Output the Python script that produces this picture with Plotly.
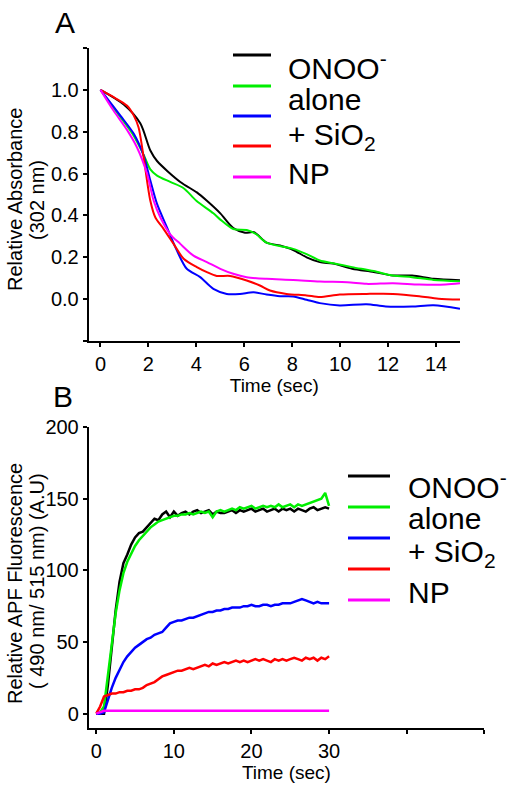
import plotly.graph_objects as go

# ---------------- Panel A data (Relative Absorbance at 302 nm) ----------------
a_black_t = [0, 0.97, 1.66, 2.08, 2.36, 3.33, 4.02, 4.44, 5.0, 5.54, 6.03, 6.4, 6.93, 7.49, 8.04, 8.6, 9.15, 9.7, 10.5, 11.4, 12.2, 13.0, 13.9, 15.0]
a_black_v = [1.0, 0.93, 0.84, 0.71, 0.66, 0.56, 0.51, 0.47, 0.41, 0.34, 0.317, 0.32, 0.27, 0.256, 0.235, 0.20, 0.177, 0.17, 0.145, 0.13, 0.113, 0.113, 0.097, 0.09]

a_green_t = [0, 0.83, 1.39, 1.8, 2.08, 2.36, 2.91, 3.47, 4.0, 4.71, 5.0, 5.54, 6.1, 6.5, 6.93, 7.62, 8.04, 8.6, 9.15, 9.7, 10.5, 11.4, 12.2, 13.0, 13.9, 15.0]
a_green_v = [1.0, 0.87, 0.78, 0.69, 0.62, 0.59, 0.56, 0.53, 0.47, 0.41, 0.38, 0.335, 0.33, 0.31, 0.27, 0.25, 0.24, 0.215, 0.185, 0.172, 0.153, 0.134, 0.113, 0.105, 0.092, 0.086]

a_blue_t = [0, 0.83, 1.39, 1.8, 2.08, 2.36, 2.77, 3.19, 3.6, 4.16, 4.71, 5.27, 5.82, 6.38, 6.93, 7.49, 8.04, 8.6, 9.15, 9.98, 11.1, 11.9, 13.0, 13.9, 15.0]
a_blue_v = [1.0, 0.877, 0.79, 0.686, 0.567, 0.455, 0.344, 0.232, 0.145, 0.105, 0.049, 0.025, 0.025, 0.033, 0.022, 0.014, 0.013, -0.003, -0.019, -0.03, -0.024, -0.035, -0.035, -0.029, -0.046]

a_red_t = [0, 0.55, 1.1, 1.39, 1.59, 1.8, 2.08, 2.29, 2.63, 3.05, 3.47, 4.02, 4.44, 4.85, 5.41, 6.1, 6.65, 7.07, 7.76, 8.6, 9.15, 9.98, 11.1, 12.2, 13.3, 14.1, 15.0]
a_red_v = [1.0, 0.965, 0.925, 0.877, 0.82, 0.678, 0.47, 0.39, 0.336, 0.264, 0.193, 0.153, 0.129, 0.111, 0.111, 0.089, 0.065, 0.041, 0.025, 0.018, 0.01, 0.022, 0.025, 0.025, 0.014, 0.002, -0.002]

a_mag_t = [0, 0.55, 1.1, 1.52, 1.94, 2.22, 2.5, 2.91, 3.33, 3.88, 4.44, 5.0, 5.54, 6.1, 6.93, 8.04, 9.15, 10.3, 11.1, 12.2, 13.3, 14.4, 15.0]
a_mag_v = [1.0, 0.90, 0.81, 0.726, 0.60, 0.47, 0.39, 0.31, 0.264, 0.208, 0.177, 0.145, 0.121, 0.105, 0.097, 0.092, 0.084, 0.081, 0.073, 0.076, 0.07, 0.07, 0.076]

# ---------------- Panel B data (Relative APF fluorescence) ----------------
b_t = [i * 0.5 for i in range(61)]
b_black = [0, 0, 0, 20, 48, 72, 92, 105, 111, 118, 123, 126, 127, 130, 133, 136, 135, 139, 141, 137,
           141, 138, 140, 141, 139, 141, 142, 140, 141, 142, 139, 141, 140, 140, 141, 142, 140, 142, 141, 142,
           143, 141, 142, 143, 141, 142, 143, 141, 143, 142, 143, 141, 143, 142, 141, 143, 144, 142, 143, 144, 143]
b_green = [1, 1, 5, 28, 50, 70, 86, 98, 106, 112, 117, 121, 124, 127, 130, 132, 134, 135, 136, 137,
           138, 138, 139, 139, 140, 139, 140, 141, 140, 141, 137, 141, 142, 141, 142, 143, 142, 144, 143, 144,
           145, 143, 144, 145, 144, 145, 144, 146, 144, 145, 146, 144, 146, 145, 146, 147, 148, 149, 150, 154, 145]
b_blue = [0, 0, 1, 10, 18, 25, 31, 36, 40, 43, 46, 48, 50, 52, 53, 55, 56, 57, 60, 63,
          64, 65, 65, 66, 67, 67, 68, 69, 70, 71, 71, 72, 72, 73, 73, 74, 74, 74, 75, 75,
          76, 75, 75, 76, 76, 75, 76, 76, 77, 77, 77, 78, 79, 80, 79, 78, 77, 78, 77, 77, 77]
b_red = [0, 5, 12, 13, 14, 14, 15, 15, 16, 16, 17, 17, 18, 20, 21, 22, 24, 26, 27, 28,
         29, 30, 30, 31, 32, 31, 32, 33, 34, 33, 35, 34, 35, 36, 35, 36, 37, 36, 37, 36,
         37, 38, 37, 38, 37, 36, 38, 37, 38, 37, 38, 39, 38, 37, 39, 38, 39, 37, 39, 38, 40]
b_mag_t = [0, 0.5, 1, 5, 10, 15, 20, 25, 30]
b_mag = [0, 1, 2, 2, 2, 2, 2, 2, 2]

colors = ["#000000", "#00ee00", "#0000ff", "#ff0000", "#ff00ff"]
legend_texts = ["ONOO<sup>-</sup>", "alone", "+ SiO<sub>2</sub>", "NP"]

W, H = 512, 790
def px(x):
    return x / W
def py(y):
    return 1 - y / H

FONT = "Liberation Sans, Arial, sans-serif"
fig = go.Figure()

a_series = [(a_black_t, a_black_v), (a_green_t, a_green_v), (a_blue_t, a_blue_v),
            (a_red_t, a_red_v), (a_mag_t, a_mag_v)]
for (t, v), c in zip(a_series, colors):
    fig.add_trace(go.Scatter(x=t, y=v, mode="lines", line=dict(color=c, width=2, shape="spline", smoothing=0.8),
                             xaxis="x", yaxis="y", showlegend=False, hoverinfo="skip"))

b_series = [(b_t, b_black), (b_t, b_green), (b_t, b_blue), (b_t, b_red), (b_mag_t, b_mag)]
for (t, v), c in zip(b_series, colors):
    fig.add_trace(go.Scatter(x=t, y=v, mode="lines", line=dict(color=c, width=2.5),
                             xaxis="x2", yaxis="y2", showlegend=False, hoverinfo="skip"))

axis_common = dict(showline=True, linecolor="black", linewidth=1.5, ticks="outside", ticklen=4,
                   tickwidth=1.5, tickcolor="black", showgrid=False, zeroline=False, automargin=False,
                   tickfont=dict(family=FONT, size=20, color="black"))
minor_common = dict(ticks="outside", ticklen=4, tickwidth=1.5, tickcolor="black", showgrid=False)

fig.update_layout(
    width=W, height=H, template="none", paper_bgcolor="white", plot_bgcolor="white",
    margin=dict(l=0, r=0, t=0, b=0), showlegend=False,
    font=dict(family=FONT, color="black"),
    xaxis=dict(domain=[px(88.5), px(460)], range=[-0.5, 15], anchor="y",
               tickvals=[0, 2, 4, 6, 8, 10, 12, 14],
               title=dict(text="Time (sec)", font=dict(family=FONT, size=19), standoff=4),
               **axis_common),
    yaxis=dict(domain=[py(341), py(48)], range=[-0.2, 1.2], anchor="x",
               tickvals=[0, 0.2, 0.4, 0.6, 0.8, 1.0],
               ticktext=["0.0", "0.2", "0.4", "0.6", "0.8", "1.0"],
               minor=dict(tickvals=[-0.2, 1.2], **minor_common),
               **axis_common),
    xaxis2=dict(domain=[px(88.5), px(484.3)], range=[-1, 50], anchor="y2",
                tickvals=[0, 10, 20, 30],
                minor=dict(tickvals=[40, 50], **minor_common),
                title=dict(text="Time (sec)", font=dict(family=FONT, size=19), standoff=4),
                **axis_common),
    yaxis2=dict(domain=[py(728), py(427)], range=[-10, 200], anchor="x2",
                tickvals=[0, 50, 100, 150, 200],
                **axis_common),
)

annotations = []
# panel letters
annotations.append(dict(text="A", x=px(65), y=py(22), xref="paper", yref="paper", showarrow=False,
                        font=dict(family=FONT, size=30), xanchor="center", yanchor="middle"))
annotations.append(dict(text="B", x=px(63), y=py(396), xref="paper", yref="paper", showarrow=False,
                        font=dict(family=FONT, size=30), xanchor="center", yanchor="middle"))
# y-axis titles
for txt, xc, yc in [("Relative Absorbance", 15, 200), ("(302 nm)", 37, 200),
                    ("Relative APF Fluorescence", 15, 584), ("( 490 nm/ 515 nm) (A.U)", 37, 581)]:
    annotations.append(dict(text=txt, x=px(xc), y=py(yc), xref="paper", yref="paper", showarrow=False,
                            textangle=-90, font=dict(family=FONT, size=20), xanchor="center", yanchor="middle"))

# legend texts
for txt, yc in zip(legend_texts, [66, 99, 136, 173]):
    annotations.append(dict(text=txt, x=px(286), y=py(yc), xref="paper", yref="paper", showarrow=False,
                            font=dict(family=FONT, size=30), xanchor="left", yanchor="middle"))
for txt, yc in zip(legend_texts, [485, 518, 553, 592]):
    annotations.append(dict(text=txt, x=px(406), y=py(yc), xref="paper", yref="paper", showarrow=False,
                            font=dict(family=FONT, size=30), xanchor="left", yanchor="middle"))
fig.update_layout(annotations=annotations)

# legend line samples
shapes = []
for c, yc in zip(colors, [55, 86, 116, 146, 177]):
    shapes.append(dict(type="line", xref="paper", yref="paper", x0=px(233), x1=px(271), y0=py(yc), y1=py(yc),
                       line=dict(color=c, width=3)))
for c, yc in zip(colors, [476, 507, 538, 569, 600]):
    shapes.append(dict(type="line", xref="paper", yref="paper", x0=px(348), x1=px(390), y0=py(yc), y1=py(yc),
                       line=dict(color=c, width=3)))
fig.update_layout(shapes=shapes)

# remove the default 8px page margin so the figure fills the 512x790 window exactly
fig.write_html("out.html", config={"displayModeBar": False},
               post_script="document.body.style.margin='0px';")
